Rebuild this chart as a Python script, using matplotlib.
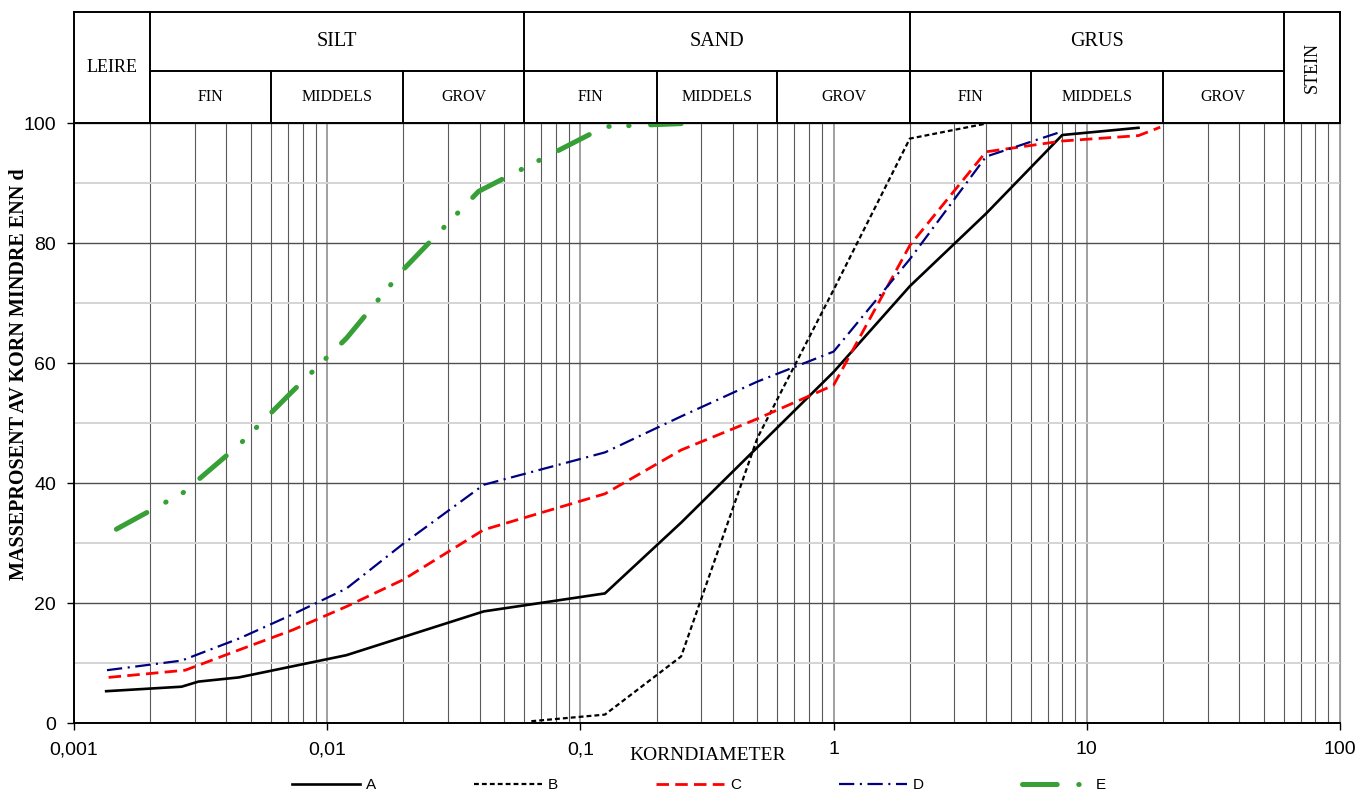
import matplotlib
matplotlib.use("Agg")
import matplotlib.pyplot as plt
from matplotlib.ticker import FixedLocator, NullFormatter
import numpy as np

# ── Data ──
d_A = [0.00134, 0.00266, 0.0031, 0.00448, 0.0119, 0.0415, 0.125, 0.25, 1, 2, 4, 8, 16]
p_A = [5.3, 6.05, 6.9, 7.6, 11.3, 18.6, 21.6, 33.4, 58.5, 72.8, 84.9, 98.0, 99.2]

d_B = [0.064, 0.125, 0.25, 0.5, 1, 2, 4]
p_B = [0.3, 1.4, 11.1, 47.5, 72.2, 97.4, 99.9]

d_C = [0.00137, 0.00275, 0.0045, 0.0073, 0.0119, 0.02, 0.0415, 0.125, 0.25, 0.5, 1, 2, 4, 8, 16, 19.5]
p_C = [7.6, 8.8, 12.2, 15.5, 19.4, 23.9, 32.2, 38.2, 45.5, 50.7, 56.3, 79.6, 95.2, 97.0, 97.9, 99.3]

d_D = [0.00135, 0.00266, 0.0045, 0.0073, 0.0119, 0.02, 0.0415, 0.125, 0.25, 0.5, 1, 2, 4, 8]
p_D = [8.8, 10.4, 14.1, 18.1, 22.4, 29.9, 39.7, 45.1, 51.1, 56.9, 61.9, 77.3, 94.4, 98.6]

d_E = [0.00147, 0.0027, 0.0045, 0.0073, 0.0119, 0.02, 0.0396, 0.125, 0.25]
p_E = [32.3, 38.4, 46.4, 55.3, 64.1, 75.6, 88.6, 99.4, 99.9]

# soil classes (grain size limits in mm)
main_classes = ["LEIRE", "SILT", "SAND", "GRUS", "STEIN"]
main_limits = [0.001, 0.002, 0.06, 2, 60, 100]
sub_classes = ["FIN", "MIDDELS", "GROV"] * 3
sub_limits = [0.002, 0.006, 0.02, 0.06, 0.2, 0.6, 2, 6, 20, 60]

x_ticks = [0.001, 0.01, 0.1, 1, 10, 100]
x_ticklabels = ["0,001", "0,01", "0,1", "1", "10", "100"]
y_ticks = [0, 20, 40, 60, 80, 100]

plt.rcParams["font.family"] = ["Liberation Sans", "DejaVu Sans"]
plt.rcParams["lines.scale_dashes"] = False
SERIF = ["Liberation Serif", "DejaVu Serif"]

W, H = 1360, 794
fig = plt.figure(figsize=(W / 100, H / 100), dpi=100)
ax = fig.add_axes([74 / W, 1 - 723 / H, (1340 - 74) / W, 600 / H])

ax.set_xscale("log")
ax.set_xlim(0.001, 100)
ax.set_ylim(0, 100)

# ── grid ──
ax.xaxis.set_major_locator(FixedLocator(x_ticks))
ax.xaxis.set_minor_locator(FixedLocator(
    [m * 10.0 ** e for e in range(-3, 2) for m in range(2, 10)]))
ax.xaxis.set_minor_formatter(NullFormatter())
ax.set_xticklabels(x_ticklabels)
ax.yaxis.set_major_locator(FixedLocator(y_ticks))
ax.yaxis.set_minor_locator(FixedLocator([10, 30, 50, 70, 90]))

ax.grid(axis="x", which="major", color="#a0a0a0", lw=1.4)
ax.grid(axis="x", which="minor", color="#5a5a5a", lw=0.8)
ax.grid(axis="y", which="major", color="#505050", lw=1.0)
ax.grid(axis="y", which="minor", color="#d4d4d4", lw=1.4)
ax.set_axisbelow(True)

ax.tick_params(which="major", direction="out", length=5, width=1, labelsize=14, pad=8)
ax.tick_params(which="minor", length=0)

for s in ["left", "bottom", "top"]:
    ax.spines[s].set_color("black")
    ax.spines[s].set_linewidth(1.4)
ax.spines["right"].set_color("#999999")

# ── curves ──
lA, = ax.plot(d_A, p_A, color="black", lw=1.9, label="A")
lB, = ax.plot(d_B, p_B, color="black", lw=1.6, linestyle=(0, (3.5, 2.2)), label="B")
lC, = ax.plot(d_C, p_C, color="#ff0000", lw=2.0, linestyle=(0, (9.0, 4.5)), label="C")
lD, = ax.plot(d_D, p_D, color="#000080", lw=1.6,
              linestyle=(0, (11.0, 4.0, 1.5, 4.0)), label="D")
lE, = ax.plot(d_E, p_E, color="#36a036", lw=3.6,
              linestyle=(0, (25.0, 15.5, 0.3, 14.0, 0.3, 15.5)),
              dash_capstyle="round", label="E")

# ── classification table above the plot ──
tr = ax.get_xaxis_transform()
y_top, y_mid = 1.185, 1.0867
kw = dict(transform=tr, clip_on=False, color="black", lw=1.4)
ax.plot([main_limits[0], main_limits[-1]], [y_top, y_top], **kw)
ax.plot([main_limits[1], main_limits[-2]], [y_mid, y_mid], **kw)
for x in main_limits:
    ax.plot([x, x], [1, y_top], **kw)
for x in sub_limits:
    ax.plot([x, x], [1, y_mid], **kw)

for i, name in enumerate(main_classes):
    xc = np.sqrt(main_limits[i] * main_limits[i + 1])
    if name in ("LEIRE", "STEIN"):
        ax.text(xc, (1 + y_top) / 2, name, transform=tr, ha="center", va="center",
                family=SERIF, fontsize=13, rotation=90 if name == "STEIN" else 0)
    else:
        ax.text(xc, (y_mid + y_top) / 2, name, transform=tr, ha="center",
                va="center", family=SERIF, fontsize=14.5)
for i, name in enumerate(sub_classes):
    xc = np.sqrt(sub_limits[i] * sub_limits[i + 1])
    ax.text(xc, (1 + y_mid) / 2, name, transform=tr, ha="center", va="center",
            family=SERIF, fontsize=11.5)

# ── axis labels ──
fig.text(708 / W, 1 - 755 / H, "KORNDIAMETER", ha="center", va="center",
         family=SERIF, fontsize=14)
fig.text(19 / W, 1 - 374 / H, "MASSEPROSENT AV KORN MINDRE ENN d", rotation=90,
         ha="center", va="center", family=SERIF, fontsize=14.5, weight="bold")

# ── legend ──
fig.legend(handles=[lA, lB, lC, lD, lE], loc="center", bbox_to_anchor=(0.514, 0.011),
           ncol=5, frameon=False, fontsize=11, handlelength=4.4, handletextpad=0.4,
           columnspacing=6.45, borderpad=0)

fig.savefig("out.png", dpi=100)
